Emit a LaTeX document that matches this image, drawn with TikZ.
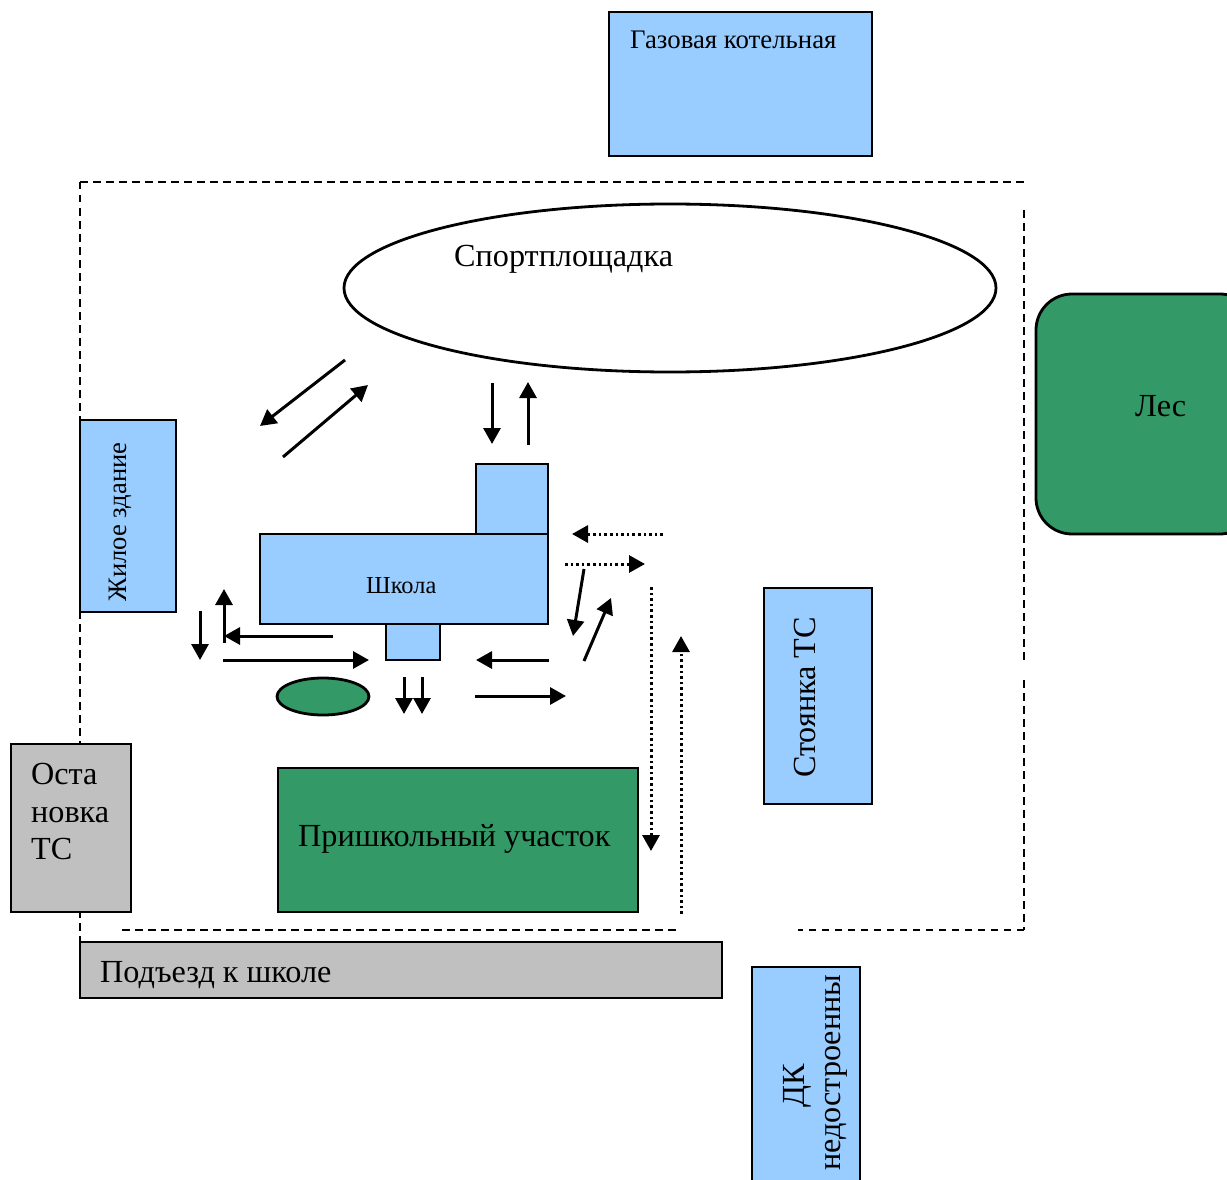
\documentclass[tikz,border=0pt]{standalone}
\usepackage{fontspec}
\setmainfont{Liberation Serif}
\usetikzlibrary{arrows.meta,shapes.geometric}
\definecolor{lightblue}{HTML}{99CCFF}
\definecolor{darkgreen}{HTML}{339966}
\definecolor{lightgrey}{HTML}{C0C0C0}
\begin{document}
\begin{tikzpicture}[x=1pt,y=-1pt,
  box/.style={rectangle,draw=black,line width=2.8pt,inner sep=0pt,anchor=center},
  route/.style={line width=3pt,-{Triangle[length=16pt,width=17pt]}},
  dotroute/.style={route,dash pattern=on 2.6pt off 3pt},
  fence/.style={line width=2.3pt,dash pattern=on 7.5pt off 5.5pt},
  label/.style={inner sep=0pt,anchor=base west,font=\fontsize{32.2}{32.2}\selectfont}]
\useasboundingbox (0,0) rectangle (1227,1180);
\clip (0,0) rectangle (1227,1180);
\fill[white] (0,0) rectangle (1227,1180);
\draw[fence] (80,182)--(1024,182);
\draw[fence] (1024,210)--(1024,660);
\draw[fence] (1024,680)--(1024,930);
\draw[fence] (1024,930)--(798,930);
\draw[fence] (122,930)--(676,930);
\draw[fence] (80,182)--(80,942);
\node[box,fill=lightblue,minimum width=263pt,minimum height=144pt] (boiler) at (740.5,84) {};
\node[label,font=\fontsize{26.8}{26.8}\selectfont] (boilertext) at (630,49) {Газовая котельная};
\node[ellipse,draw=black,line width=2.8pt,fill=white,minimum width=652pt,minimum height=168pt,inner sep=0pt] (sport) at (670,288) {};
\node[label] (sporttext) at (454,266) {Спортплощадка};
\node[box,fill=darkgreen,rounded corners=36pt,minimum width=220pt,minimum height=240pt] (forest) at (1146,414) {};
\node[label] (foresttext) at (1135,416) {Лес};
\node[box,fill=lightblue,minimum width=96pt,minimum height=192pt] (house) at (128,516) {};
\node[label,font=\fontsize{26.6}{26.6}\selectfont,rotate=90] (housetext) at (126,602) {Жилое здание};
\node[box,fill=lightblue,minimum width=72pt,minimum height=70pt] (tower) at (512,499) {};
\node[box,fill=lightblue,minimum width=288pt,minimum height=90pt] (school) at (404,579) {};
\node[label,font=\fontsize{24.4}{24.4}\selectfont] (schooltext) at (366,593) {Школа};
\node[box,fill=lightblue,minimum width=54pt,minimum height=36pt] (porch) at (413,642) {};
\node[ellipse,draw=black,line width=2.8pt,fill=darkgreen,minimum width=92pt,minimum height=37pt,inner sep=0pt] (oval) at (323,696.5) {};
\node[box,fill=lightblue,minimum width=108pt,minimum height=216pt] (parking) at (818,696) {};
\node[label,rotate=90] (parkingtext) at (815,778) {Стоянка ТС};
\node[box,fill=darkgreen,minimum width=360pt,minimum height=144pt] (garden) at (458,840) {};
\node[label] (gardentext) at (298,846) {Пришкольный участок};
\node[box,fill=lightgrey,minimum width=120pt,minimum height=168pt] (stop) at (71,828) {};
\node[label] (stoptexta) at (31,784) {Оста};
\node[label] (stoptextb) at (31,822) {новка};
\node[label] (stoptextc) at (31,859) {ТС};
\node[box,fill=lightgrey,minimum width=642pt,minimum height=56pt] (road) at (401,970) {};
\node[label] (roadtext) at (100,982) {Подъезд к школе};
\node[box,fill=lightblue,minimum width=108pt,minimum height=240pt] (club) at (806,1087) {};
\node[label,rotate=90] (clubtexta) at (804,1108) {ДК};
\node[label,rotate=90] (clubtextb) at (840,1171) {недостроенны};
\draw[route] (345,360)--(260,426);
\draw[route] (283,457)--(368,385);
\draw[route] (492,383)--(492,444);
\draw[route] (528,445)--(528,382);
\draw[route] (584,569)--(573,636);
\draw[route] (584,661)--(611,598);
\draw[route] (549,660)--(476,660);
\draw[route] (475,696)--(566,696);
\draw[route] (404,677)--(404,714);
\draw[route] (422,677)--(422,714);
\draw[route] (223,660)--(369,660);
\draw[route] (333,636)--(224,636);
\draw[route] (224,643)--(224,589);
\draw[route] (200,611)--(200,660);
\draw[dotroute] (663,534)--(572,534);
\draw[dotroute] (565,564)--(645,564);
\draw[dotroute] (651,587)--(651,851);
\draw[dotroute] (681,914)--(681,636);
\end{tikzpicture}
\end{document}
